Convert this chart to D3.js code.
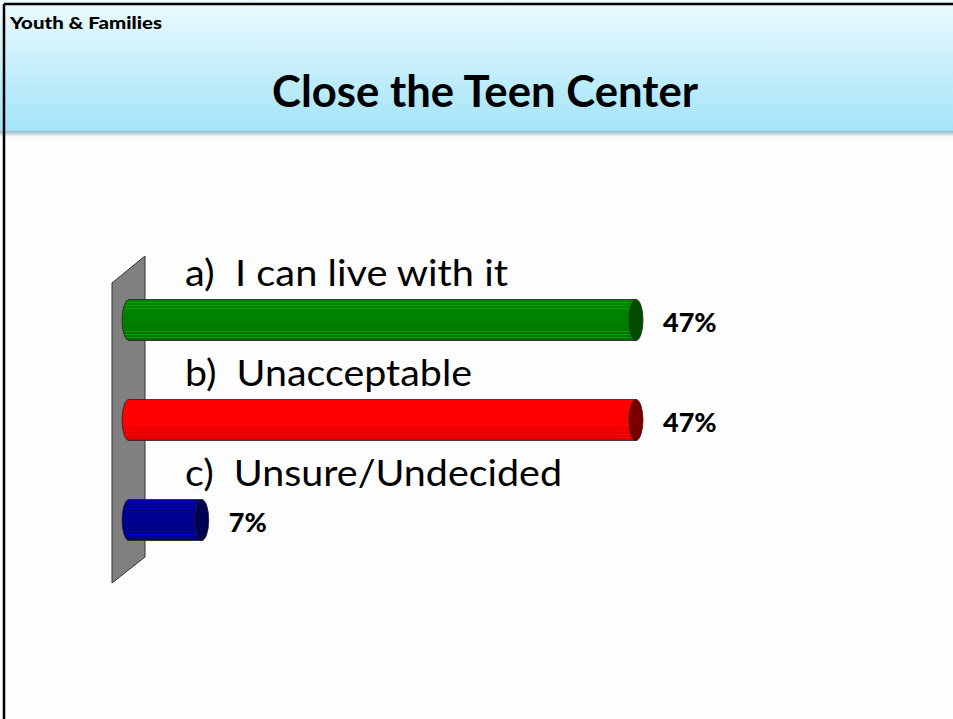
<!DOCTYPE html>
<html>
<head>
<meta charset="utf-8">
<script src="https://cdn.jsdelivr.net/npm/d3@7"></script>
<style>
  body { margin: 0; background: #fff; }
  svg { display: block; }
</style>
</head>
<body>
<div id="chart"></div>
<script>
(function(){

  // answers and their share of votes (percent)
  var categories = ["a)  I can live with it", "b)  Unacceptable", "c)  Unsure/Undecided"];
  var values = [46.7, 46.7, 6.7];
  var bodyColors = ["#008000", "#ff0000", "#000090"];
  var capColors = ["#004d00", "#7a0000", "#000050"];
  // widths of the answer labels in the original slide font
  var labelWidths = [323, 287, 377];

  var width = 953;
  var height = 719;
  var font = "Lato, 'Open Sans', sans-serif";

  var svg = d3.select("#chart")
    .append("svg")
    .attr("width", width)
    .attr("height", height);

  var defs = svg.append("defs");

  // header band
  var hg = defs.append("linearGradient").attr("id", "hdr")
    .attr("x1", 0).attr("y1", 0).attr("x2", 0).attr("y2", 1);
  hg.append("stop").attr("offset", "0%").attr("stop-color", "#ecfbfe");
  hg.append("stop").attr("offset", "100%").attr("stop-color", "#a3e4f8");

  var sg = defs.append("linearGradient").attr("id", "shadow")
    .attr("x1", 0).attr("y1", 0).attr("x2", 0).attr("y2", 1);
  sg.append("stop").attr("offset", "0%").attr("stop-color", "#8fb7c2");
  sg.append("stop").attr("offset", "100%").attr("stop-color", "#fdfdfd");

  svg.append("rect").attr("x", 0).attr("y", 0).attr("width", width).attr("height", height)
    .attr("fill", "#fdfdfd");
  svg.append("rect").attr("x", 0).attr("y", 0).attr("width", width).attr("height", 131)
    .attr("fill", "url(#hdr)");
  svg.append("rect").attr("x", 0).attr("y", 131).attr("width", width).attr("height", 6)
    .attr("fill", "url(#shadow)");

  // frame lines (top and left)
  svg.append("line").attr("x1", 4).attr("x2", width).attr("y1", 4).attr("y2", 4)
    .attr("stroke", "#000").attr("stroke-width", 2.5);
  svg.append("line").attr("x1", 4).attr("x2", 4).attr("y1", 4).attr("y2", height)
    .attr("stroke", "#000").attr("stroke-width", 2.5);

  svg.append("text").attr("x", 10).attr("y", 29)
    .attr("font-family", font)
    .attr("font-weight", "900").attr("font-size", 17)
    .attr("textLength", 152).attr("lengthAdjust", "spacingAndGlyphs")
    .text("Youth & Families");

  svg.append("text").attr("x", 272).attr("y", 107)
    .attr("font-family", font)
    .attr("font-weight", "bold").attr("font-size", 44)
    .attr("textLength", 426).attr("lengthAdjust", "spacingAndGlyphs")
    .text("Close the Teen Center");

  // scales
  var x = d3.scaleLinear().domain([0, d3.max(values)]).range([129, 636]);
  var y = d3.scaleBand().domain(categories).range([270, 570]).paddingInner(0.59).paddingOuter(0.295);

  // back wall
  var wall = [[112, 283], [145, 256], [145, 557], [112, 583]];
  svg.append("path")
    .attr("d", d3.line()(wall) + "Z")
    .attr("fill", "#808080")
    .attr("stroke", "#333")
    .attr("stroke-width", 1);

  // body gradients with thin highlight stripes
  categories.forEach(function(c, i){
    var base = d3.color(bodyColors[i]);
    var lite = base.brighter(0.7), dark = base.darker(0.3);
    var g = defs.append("linearGradient").attr("id", "body" + i)
      .attr("x1", 0).attr("y1", 0).attr("x2", 0).attr("y2", 1);
    var stops = [
      [0, base], [0.05, base], [0.05, lite], [0.08, lite], [0.08, base],
      [0.13, base], [0.13, lite], [0.16, lite], [0.16, base], [0.2, base],
      [0.2, lite], [0.22, lite], [0.22, base],
      [0.6, base], [0.78, dark], [0.78, lite], [0.8, lite], [0.8, dark], [0.85, dark],
      [0.85, lite], [0.87, lite], [0.87, dark], [0.92, dark], [0.92, lite],
      [0.94, lite], [0.94, base.darker(0.6)], [1, base.darker(0.6)]
    ];
    stops.forEach(function(s){
      g.append("stop").attr("offset", (s[0] * 100) + "%").attr("stop-color", s[1].formatHex());
    });
  });

  var bars = svg.selectAll("g.bar")
    .data(categories)
    .enter()
    .append("g")
    .attr("class", "bar");

  var rx = 7;

  bars.append("path")
    .attr("d", function(d, i){
      var top = y(d), bh = y.bandwidth(), x0 = x(0), x1 = x(values[i]);
      return "M" + x1 + "," + top +
        "L" + x0 + "," + top +
        "A" + rx + "," + (bh / 2) + " 0 0 0 " + x0 + "," + (top + bh) +
        "L" + x1 + "," + (top + bh) + "Z";
    })
    .attr("fill", function(d, i){ return "url(#body" + i + ")"; })
    .attr("stroke", "#222")
    .attr("stroke-width", 0.8);

  bars.append("ellipse")
    .attr("cx", function(d, i){ return x(values[i]); })
    .attr("cy", function(d){ return y(d) + y.bandwidth() / 2; })
    .attr("rx", rx)
    .attr("ry", y.bandwidth() / 2)
    .attr("fill", function(d, i){ return capColors[i]; })
    .attr("stroke", "#222")
    .attr("stroke-width", 0.8);

  bars.append("text")
    .attr("x", 185)
    .attr("y", function(d){ return y(d) - 14; })
    .attr("font-family", font)
    .attr("font-size", 37)
    .attr("fill", "#000")
    .attr("textLength", function(d, i){ return labelWidths[i]; })
    .attr("lengthAdjust", "spacingAndGlyphs")
    .style("white-space", "pre")
    .text(function(d){ return d; });

  bars.append("text")
    .attr("x", function(d, i){ return x(values[i]) + 27; })
    .attr("y", function(d){ return y(d) + y.bandwidth() / 2 + 12; })
    .attr("font-family", font)
    .attr("font-weight", "900")
    .attr("font-size", 27)
    .text(function(d, i){ return d3.format(".0f")(values[i]) + "%"; });

})();
</script>
</body>
</html>
